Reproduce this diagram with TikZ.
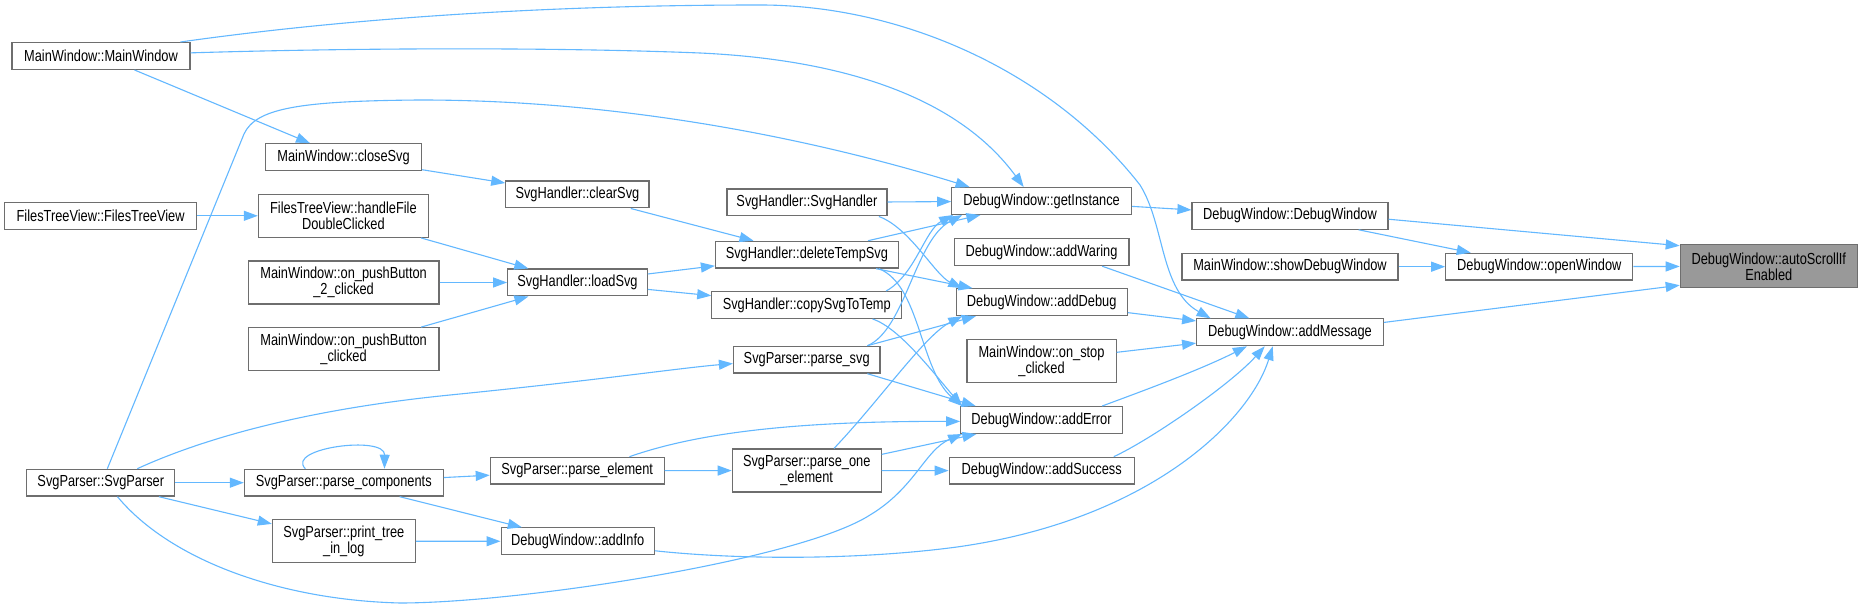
\documentclass[tikz,border=0pt]{standalone}
\usepackage{fontspec}
\usepackage{xcolor,tikz}
\usetikzlibrary{arrows.meta}
\newfontfamily\nodefont[FakeStretch=0.8]{Liberation Sans}
\definecolor{edge}{RGB}{99,184,255}
\definecolor{frame}{RGB}{110,110,110}
\definecolor{rootfill}{RGB}{153,153,153}
\tikzset{
  fn/.style={draw=frame,fill=white,line width=.6pt,inner sep=0pt,minimum height=13.4pt,align=center,
    font={\nodefont\fontsize{8pt}{8pt}\selectfont}},
  fn2/.style={fn,minimum height=21.5pt},
  root/.style={fn2,fill=rootfill},
  arr/.style={-{Triangle[length=7pt,width=5pt]},draw=edge,line width=.55pt}
}
\begin{document}
\begin{tikzpicture}[x=.5pt,y=-.5pt]
  \fill[white] (0,0) rectangle (1862,608);
  \useasboundingbox (0,0) rectangle (1862,608);

  % callers, left column
  \node[fn,minimum width=89pt] (mwMain) at (101,56) {MainWindow::MainWindow};
  \node[fn,minimum width=96pt] (fileView) at (100.6,215.8) {FilesTreeView::FilesTreeView};
  \node[fn,minimum width=74pt] (svgParser) at (100.8,482.7) {SvgParser::SvgParser};

  \node[fn,minimum width=78pt] (closeSvg) at (343.6,157.2) {MainWindow::closeSvg};
  \node[fn2,minimum width=85pt] (handleFile) at (343.4,215.8) {FilesTreeView::handleFile\\DoubleClicked};
  \node[fn2,minimum width=95.3pt] (pushBtn2) at (343.6,282.5) {MainWindow::on\_pushButton\\\_2\_clicked};
  \node[fn2,minimum width=95.3pt] (pushBtn) at (343.6,349.2) {MainWindow::on\_pushButton\\\_clicked};
  \node[fn,minimum width=99.4pt] (parseComp) at (343.8,482.7) {SvgParser::parse\_components};
  \node[fn2,minimum width=71.4pt] (printTree) at (343.8,541.2) {SvgParser::print\_tree\\\_in\_log};

  \node[fn,minimum width=71.6pt] (clearSvg) at (577.4,194.5) {SvgHandler::clearSvg};
  \node[fn,minimum width=69.8pt] (loadSvg) at (577.5,282.5) {SvgHandler::loadSvg};
  \node[fn,minimum width=86.9pt] (parseElem) at (577.2,470.7) {SvgParser::parse\_element};
  \node[fn,minimum width=76.6pt] (addInfo) at (577.7,541.3) {DebugWindow::addInfo};

  \node[fn,minimum width=80pt] (svgHandler) at (806.9,202.5) {SvgHandler::SvgHandler};
  \node[fn,minimum width=91.4pt] (delTemp) at (806.9,254.7) {SvgHandler::deleteTempSvg};
  \node[fn,minimum width=94.9pt] (copyTemp) at (806.7,305) {SvgHandler::copySvgToTemp};
  \node[fn,minimum width=73.2pt] (parseSvg) at (806.7,359.7) {SvgParser::parse\_svg};
  \node[fn2,minimum width=74.4pt] (parseOne) at (806.7,470.5) {SvgParser::parse\_one\\\_element};

  \node[fn,minimum width=89.8pt] (getInst) at (1041.6,201) {DebugWindow::getInstance};
  \node[fn,minimum width=87.4pt] (addWaring) at (1041.5,252.2) {DebugWindow::addWaring};
  \node[fn,minimum width=85.5pt] (addDebug) at (1041.7,302.2) {DebugWindow::addDebug};
  \node[fn2,minimum width=74.6pt] (onStop) at (1041.5,361) {MainWindow::on\_stop\\\_clicked};
  \node[fn,minimum width=80.8pt] (addError) at (1041.5,420) {DebugWindow::addError};
  \node[fn,minimum width=92.5pt] (addSuccess) at (1041.7,470.7) {DebugWindow::addSuccess};

  \node[fn,minimum width=98pt] (dbgWin) at (1290,215.8) {DebugWindow::DebugWindow};
  \node[fn,minimum width=108pt] (showDbg) at (1290,266.7) {MainWindow::showDebugWindow};
  \node[fn,minimum width=93.3pt] (addMsg) at (1290,332.3) {DebugWindow::addMessage};
  \node[fn,minimum width=93.5pt] (openWin) at (1539.3,266.7) {DebugWindow::openWindow};
  \node[root,minimum width=88.5pt] (autoScroll) at (1768.8,266.3) {DebugWindow::autoScrollIf\\Enabled};

  % straight calls
  \draw[arr] (mwMain) -- (closeSvg);
  \draw[arr] (fileView) -- (handleFile);
  \draw[arr] (handleFile) -- (loadSvg);
  \draw[arr] (pushBtn2) -- (loadSvg);
  \draw[arr] (pushBtn) -- (loadSvg);
  \draw[arr] (closeSvg) -- (clearSvg);
  \draw[arr] (clearSvg) -- (delTemp);
  \draw[arr] (loadSvg) -- (delTemp);
  \draw[arr] (loadSvg) -- (copyTemp);
  \draw[arr] (svgParser) -- (parseComp);
  \draw[arr] (svgParser) -- (printTree);
  \draw[arr] (parseComp) -- (parseElem);
  \draw[arr] (parseComp) -- (addInfo);
  \draw[arr] (printTree) -- (addInfo);
  \draw[arr] (parseElem) -- (parseOne);
  \draw[arr] (parseOne) -- (addError);
  \draw[arr] (parseOne) -- (addSuccess);
  \draw[arr] (svgHandler) -- (getInst);
  \draw[arr] (delTemp) -- (getInst);
  \draw[arr] (delTemp) -- (addDebug);
  \draw[arr] (parseSvg.13) -- (addDebug.192.3);
  \draw[arr] (parseSvg.-13.3) -- (addError.168.7);
  \draw[arr] (getInst) -- (dbgWin);
  \draw[arr] (dbgWin) -- (openWin);
  \draw[arr] (dbgWin.-2.5) -- (autoScroll.167.6);
  \draw[arr] (showDbg) -- (openWin);
  \draw[arr] (openWin) -- (autoScroll);
  \draw[arr] (addMsg.6.3) -- (autoScroll.-168);
  \draw[arr] (addWaring.-13.5) -- (addMsg.161.5);
  \draw[arr] (addDebug) -- (addMsg);
  \draw[arr] (onStop) -- (addMsg);

  % curved calls
  \draw[arr] (parseComp.160.6) .. controls (285,448) and (385,435) .. (parseComp.19.3);
  \draw[arr] (mwMain.10) .. controls (350,18) and (550,5) .. (760,5) .. controls (900,5) and (1050,70) .. (1140,185)
    .. controls (1165,225) and (1160,290) .. (addMsg.170);
  \draw[arr] (mwMain.2.4) .. controls (350,48) and (550,47) .. (700,53) .. controls (850,60) and (960,100) .. (getInst.142);
  \draw[arr] (svgParser.65) -- (244,134) .. controls (256,108) and (300,101) .. (420,100)
    .. controls (650,100) and (850,150) .. (getInst.169);
  \draw[arr] (svgParser.21) .. controls (200,440) and (300,410) .. (450,395) .. controls (600,380) and (680,368) .. (parseSvg.183);
  \draw[arr] (svgParser.-40.8) .. controls (170,560) and (280,600) .. (400,603) .. controls (520,603) and (800,560) .. (870,515)
    .. controls (915,488) and (925,450) .. (addError.190);
  \draw[arr] (addInfo.-7.7) .. controls (740,560) and (860,560) .. (957,547) .. controls (1150,520) and (1250,420) .. (addMsg.-141.8);
  \draw[arr] (svgHandler.-11.6) .. controls (910,228) and (935,275) .. (addDebug.170);
  \draw[arr] (delTemp.-11) .. controls (920,285) and (920,370) .. (addError.170.5);
  \draw[arr] (copyTemp.-12.4) .. controls (900,328) and (935,375) .. (addError.170);
  \draw[arr] (copyTemp.10.7) .. controls (915,275) and (925,230) .. (getInst.189.3);
  \draw[arr] (parseSvg.13) .. controls (905,330) and (915,240) .. (getInst.190.1);
  \draw[arr] (parseOne.39.3) .. controls (880,400) and (925,335) .. (addDebug.190.4);
  \draw[arr] (parseElem.15.7) .. controls (700,432) and (800,421) .. (addError.181);
  \draw[arr] (addError.13.2) .. controls (1140,392) and (1200,370) .. (addMsg.-162.7);
  \draw[arr] (addSuccess.11.8) .. controls (1150,440) and (1230,385) .. (addMsg.-151.8);
\end{tikzpicture}
\end{document}
